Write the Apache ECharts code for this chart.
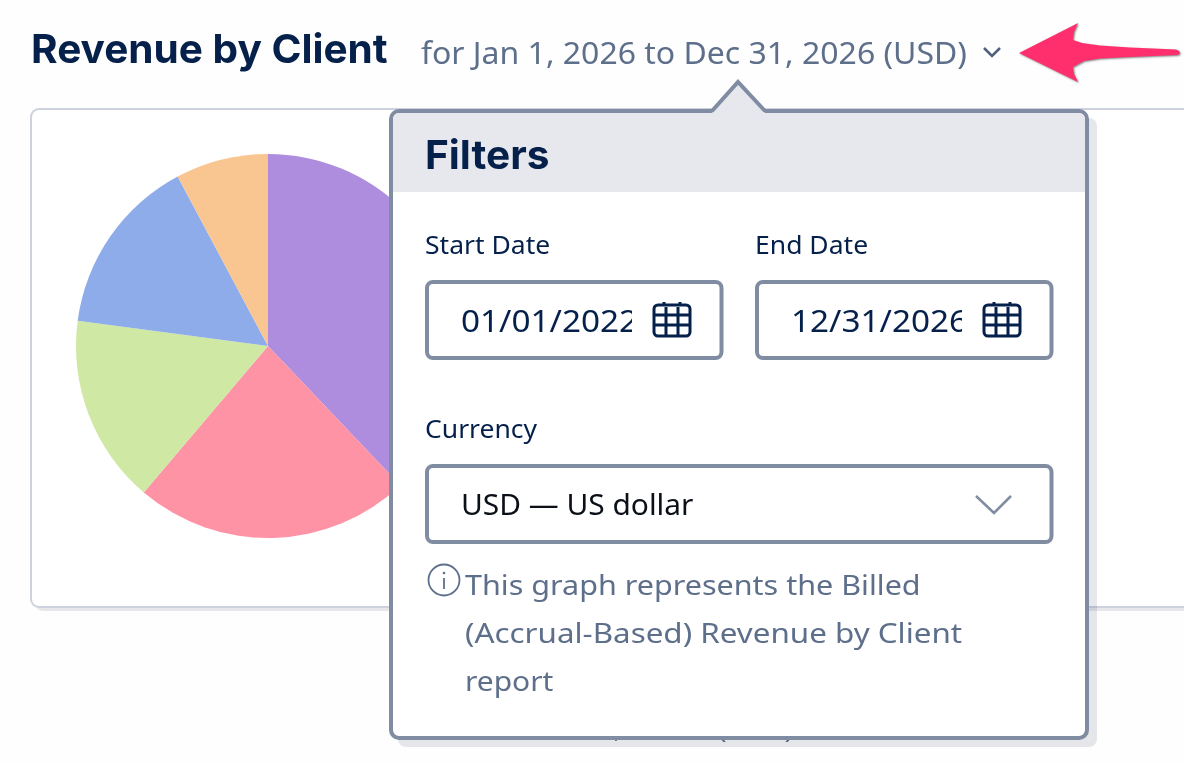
<!DOCTYPE html>
<html>
<head>
<meta charset="utf-8">
<title>Revenue by Client</title>
<script src="https://cdn.jsdelivr.net/npm/echarts@6/dist/echarts.min.js"></script>
<style>
  html, body { margin: 0; padding: 0; background: #fefefe; }
  #main { width: 1184px; height: 762px; }
</style>
</head>
<body>
<div id="main"></div>
<script>
// pie values, share of revenue in percent
var sliceValues = [37.9, 23.3, 15.9, 15.1, 7.8];
var sliceColors = ['#ae8ddf', '#ff93a6', '#cfe8a4', '#8dace9', '#f9c692'];

var titleText = 'Revenue by Client';
var subtitleText = 'for Jan 1, 2026 to Dec 31, 2026 (USD)';
var noteLines = ['This graph represents the Billed', '(Accrual-Based) Revenue by Client', 'report'];
var noteStretch = [1.09, 1.12, 1.07];

var NAVY = '#05204a';
var SLATE = '#5d6f8a';
var BORDER = '#7f8ca1';
var FONT = '"Noto Sans", sans-serif';

// sx widens the text a little, the original font is wider than the installed ones
function label(text, x, y, size, fill, weight, family, sx) {
  return {
    type: 'text',
    z: 20,
    silent: true,
    x: x,
    y: y,
    scaleX: sx || 1,
    style: {
      text: text, x: 0, y: 0, fill: fill,
      font: (weight || 400) + ' ' + size + 'px ' + (family || FONT),
      textVerticalAlign: 'middle'
    }
  };
}

function box(x, y, w, h) {
  return {
    type: 'rect',
    z: 15,
    silent: true,
    shape: { x: x, y: y, width: w, height: h, r: 6 },
    style: { fill: '#fff', stroke: BORDER, lineWidth: 4 }
  };
}

function calendar(x, y) {
  var style = { fill: 'none', stroke: NAVY, lineWidth: 3 };
  var lines = [
    [[x + 10, y - 1], [x + 10, y + 3]],
    [[x + 26, y - 1], [x + 26, y + 3]],
    [[x, y + 12], [x + 36, y + 12]],
    [[x, y + 22], [x + 36, y + 22]],
    [[x + 12, y + 4], [x + 12, y + 33]],
    [[x + 24, y + 4], [x + 24, y + 33]]
  ];
  var els = [{
    type: 'rect', z: 20, silent: true,
    shape: { x: x, y: y + 2, width: 36, height: 31, r: 4 },
    style: style
  }];
  lines.forEach(function (l) {
    els.push({ type: 'polyline', z: 20, silent: true, shape: { points: l }, style: style });
  });
  return els;
}

function chevron(points, color, width) {
  return {
    type: 'polyline', z: 20, silent: true,
    shape: { points: points },
    style: { fill: 'none', stroke: color, lineWidth: width }
  };
}

var arrowOutline = [
  [1019, 53], [1078, 23], [1074, 32], [1073, 40], [1082, 43], [1100, 45.5], [1130, 47.5], [1176, 49.5],
  [1179, 51], [1180, 53], [1178, 55], [1130, 57], [1100, 58.5], [1084, 61], [1073, 67], [1074, 74], [1078, 82]
];

var elements = [
  // card behind the pie
  { type: 'rect', z: 0, silent: true, shape: { x: 35, y: 112, width: 1200, height: 499, r: 8 }, style: { fill: '#e5e7ea' } },
  { type: 'rect', z: 1, silent: true, shape: { x: 31, y: 109, width: 1200, height: 498, r: 8 }, style: { fill: '#fff', stroke: '#cdd2de', lineWidth: 2 } },

  label(titleText, 31, 51, 40, NAVY, 700, 'Inter', 1.014),
  label(subtitleText, 421, 55, 30, SLATE, 400, FONT, 1.066),
  chevron([[984, 48], [992, 56], [1000, 48]], '#4f6080', 2.5),

  // annotation arrow
  {
    type: 'polygon', z: 20, silent: true,
    shape: { points: arrowOutline },
    style: { fill: '#ff2f6d', shadowBlur: 2, shadowOffsetX: 1, shadowOffsetY: 1, shadowColor: 'rgba(60,60,60,0.6)' }
  },

  // page text that the popup covers, only its descenders show
  { type: 'text', z: 8, silent: true, style: { text: ',', x: 614, y: 731, fill: SLATE, font: '24px ' + FONT, textVerticalAlign: 'middle' } },
  { type: 'text', z: 8, silent: true, x: 718, y: 731, scaleX: 1.2, style: { text: '(USD)', x: 0, y: 0, fill: SLATE, font: '24px ' + FONT, textVerticalAlign: 'middle' } },

  // popup
  { type: 'rect', z: 9, silent: true, shape: { x: 398, y: 118, width: 699, height: 629, r: 8 }, style: { fill: 'rgba(60,70,90,0.13)' } },
  { type: 'rect', z: 10, silent: true, shape: { x: 391, y: 111, width: 696, height: 627, r: 8 }, style: { fill: '#fff', stroke: BORDER, lineWidth: 4 } },
  { type: 'rect', z: 11, silent: true, shape: { x: 393, y: 113, width: 692, height: 79, r: [6, 6, 0, 0] }, style: { fill: '#e6e8ed' } },
  { type: 'polygon', z: 12, silent: true, shape: { points: [[712, 113], [738, 82], [765, 113]] }, style: { fill: '#e6e8ed' } },
  { type: 'polyline', z: 12, silent: true, shape: { points: [[712, 111], [738, 82], [765, 111]] }, style: { fill: 'none', stroke: BORDER, lineWidth: 4 } },

  label('Filters', 425, 157, 40, NAVY, 700, 'Inter', 1.016),
  label('Start Date', 425, 247, 26, NAVY, 400, FONT, 1.02),
  label('End Date', 755, 247, 26, NAVY, 400, FONT, 1.02),
  label('Currency', 425, 431, 26, NAVY, 400, FONT, 1.02),

  box(427, 282, 294.5, 76),
  box(757, 282, 294.5, 76),
  box(427, 466, 624.5, 76),

  label('01/01/2022', 461, 323, 30, NAVY, 400, FONT, 1.11),
  label('12/31/2026', 791, 323, 30, NAVY, 400, FONT, 1.11),
  { type: 'rect', z: 21, silent: true, shape: { x: 632, y: 300, width: 18, height: 42 }, style: { fill: '#fff' } },
  { type: 'rect', z: 21, silent: true, shape: { x: 962, y: 300, width: 18, height: 42 }, style: { fill: '#fff' } },

  label('USD — US dollar', 461, 507, 29, '#0b0f17', 400, FONT, 1.03),
  chevron([[976, 496], [994, 513], [1011, 496]], BORDER, 2.5),

  // info icon
  { type: 'circle', z: 20, silent: true, shape: { cx: 444, cy: 580, r: 15.5 }, style: { fill: 'none', stroke: SLATE, lineWidth: 1.8 } },
  { type: 'polyline', z: 20, silent: true, shape: { points: [[444, 578], [444, 589]] }, style: { fill: 'none', stroke: SLATE, lineWidth: 1.8 } },
  { type: 'circle', z: 20, silent: true, shape: { cx: 444, cy: 573, r: 1.3 }, style: { fill: SLATE } }
];

elements = elements.concat(calendar(654, 303), calendar(984, 303));
noteLines.forEach(function (line, i) {
  elements.push(label(line, 465, 587 + i * 48, 28, SLATE, 400, FONT, noteStretch[i]));
});

var chart = echarts.init(document.getElementById('main'));
chart.setOption({
  animation: false,
  backgroundColor: '#fefefe',
  graphic: { elements: elements },
  series: [{
    type: 'pie',
    z: 3,
    center: [268, 346],
    radius: 192,
    startAngle: 90,
    silent: true,
    label: { show: false },
    labelLine: { show: false },
    data: sliceValues.map(function (v, i) {
      return { value: v, itemStyle: { color: sliceColors[i] } };
    })
  }]
});
</script>
</body>
</html>
